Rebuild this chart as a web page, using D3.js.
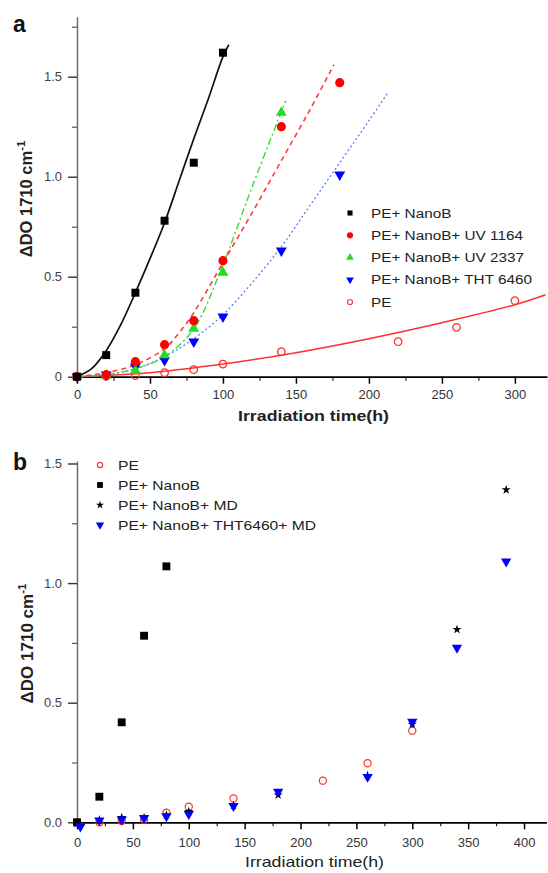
<!DOCTYPE html>
<html><head><meta charset="utf-8">
<script src="https://cdn.jsdelivr.net/npm/d3@7"></script>
<style>body{margin:0;background:#fff}svg{display:block}</style>
</head><body><svg id="c" width="548" height="873"></svg>
<script>
// ---------- DATA: panel a ----------
const aNanoB_x   = [0, 20, 40, 60, 80, 100];
const aNanoB_y   = [0, 0.108, 0.42, 0.78, 1.07, 1.62];
const aUV1164_x  = [0, 20, 40, 60, 80, 100, 140, 180];
const aUV1164_y  = [0, 0.01, 0.075, 0.16, 0.28, 0.58, 1.25, 1.47];
const aUV2337_x  = [0, 20, 40, 60, 80, 100, 140];
const aUV2337_y  = [0, 0.005, 0.03, 0.108, 0.24, 0.52, 1.32];
const aTHT_x     = [0, 20, 40, 60, 80, 100, 140, 180];
const aTHT_y     = [0, 0.01, 0.05, 0.083, 0.175, 0.30, 0.63, 1.01];
const aPE_x      = [0, 20, 40, 60, 80, 100, 140, 220, 260, 300];
const aPE_y      = [0, 0.002, 0.005, 0.02, 0.035, 0.063, 0.125, 0.175, 0.247, 0.38];
// fitted curves
const fNanoB_x   = [0, 10, 20, 30, 40, 50, 60, 70, 80, 90, 100, 104];
const fNanoB_y   = [0, 0.04, 0.13, 0.26, 0.42, 0.59, 0.77, 0.98, 1.19, 1.39, 1.6, 1.66];
const fUV1164_x  = [0, 20, 40, 60, 70, 80, 100, 120, 140, 160, 176];
const fUV1164_y  = [0, 0.02, 0.06, 0.14, 0.22, 0.32, 0.57, 0.82, 1.08, 1.34, 1.56];
const fUV2337_x  = [0, 20, 40, 60, 80, 100, 120, 143];
const fUV2337_y  = [0, 0.01, 0.04, 0.10, 0.24, 0.56, 0.95, 1.38];
const fTHT_x     = [0, 20, 40, 60, 80, 100, 120, 140, 160, 180, 200, 213];
const fTHT_y     = [0, 0.01, 0.04, 0.10, 0.19, 0.31, 0.47, 0.65, 0.86, 1.07, 1.28, 1.42];
const fPE_x      = [0, 50, 100, 150, 200, 250, 300, 321];
const fPE_y      = [0, 0.02, 0.063, 0.12, 0.19, 0.27, 0.36, 0.41];
const aLegend    = ["PE+ NanoB", "PE+ NanoB+ UV 1164", "PE+ NanoB+ UV 2337", "PE+ NanoB+ THT 6460", "PE"];
const aXTicks    = [0, 50, 100, 150, 200, 250, 300];
const aXMinor    = [25, 75, 125, 175, 225, 275];
const aYTicks    = [0, 0.5, 1.0, 1.5];
const aYMinor    = [0.25, 0.75, 1.25, 1.75];

// ---------- DATA: panel b ----------
const bPE_x      = [0, 20, 40, 60, 80, 100, 140, 220, 260, 300];
const bPE_y      = [0, 0, 0.005, 0.01, 0.04, 0.065, 0.10, 0.174, 0.247, 0.383];
const bNanoB_x   = [0, 20, 40, 60, 80];
const bNanoB_y   = [0, 0.107, 0.418, 0.78, 1.07];
const bMD_x      = [0, 20, 40, 60, 80, 100, 140, 180, 260, 300, 340, 384];
const bMD_y      = [-0.005, 0.01, 0.02, 0.02, 0.03, 0.045, 0.07, 0.114, 0.195, 0.41, 0.806, 1.39];
const bTHT_x     = [3, 20, 40, 60, 80, 100, 140, 180, 260, 300, 340, 384];
const bTHT_y     = [-0.018, 0.008, 0.012, 0.018, 0.025, 0.035, 0.068, 0.128, 0.19, 0.42, 0.73, 1.09];
const bLegend    = ["PE", "PE+ NanoB", "PE+ NanoB+ MD", "PE+ NanoB+ THT6460+ MD"];
const bXTicks    = [0, 50, 100, 150, 200, 250, 300, 350, 400];
const bXMinor    = [25, 75, 125, 175, 225, 275, 325, 375];
const bYTicks    = [0, 0.5, 1.0, 1.5];
const bYMinor    = [0.25, 0.75, 1.25];

// ---------- DRAW ----------
const FONT = '"Liberation Sans", Arial, sans-serif';
const svg = d3.select('#c');
svg.append('rect').attr('width', 548).attr('height', 873).attr('fill', '#fff');

const xa = d3.scaleLinear([0, 322], [77, 547]);
const ya = d3.scaleLinear([0, 1.8], [376.7, 16.7]);
const xb = d3.scaleLinear([0, 420], [77, 546.4]);
const yb = d3.scaleLinear([0, 1.51], [822.3, 461.1]);

function axes(xs, ys, cfg) {
  const x0 = xs(0), y0 = ys(0);
  const gm = svg.append('g').attr('transform', `translate(${x0},0)`)
    .call(d3.axisLeft(ys).tickValues(cfg.yMinor).tickSize(5).tickFormat(''));
  gm.select('.domain').remove();
  gm.selectAll('line').attr('stroke', '#555').attr('stroke-width', 1.2);
  const gy = svg.append('g').attr('transform', `translate(${x0},0)`)
    .call(d3.axisLeft(ys).tickValues(cfg.yTicks).tickSize(9).tickSizeOuter(0).tickPadding(6).tickFormat(cfg.yFmt));
  gy.attr('font-family', FONT).attr('font-size', 13);
  gy.select('.domain').attr('stroke', '#666').attr('stroke-width', 1.4);
  gy.selectAll('line').attr('stroke', '#333').attr('stroke-width', 1.4);
  gy.selectAll('text').attr('fill', '#444');

  const gxm = svg.append('g').attr('transform', `translate(0,${y0})`)
    .call(d3.axisBottom(xs).tickValues(cfg.xMinor).tickSize(4).tickFormat(''));
  gxm.select('.domain').remove();
  gxm.selectAll('line').attr('stroke', '#222').attr('stroke-width', 1.2);
  const gx = svg.append('g').attr('transform', `translate(0,${y0})`)
    .call(d3.axisBottom(xs).tickValues(cfg.xTicks).tickSize(7).tickSizeOuter(0).tickPadding(cfg.xPad));
  gx.attr('font-family', FONT).attr('font-size', 13);
  gx.select('.domain').attr('stroke', '#000').attr('stroke-width', 1.8);
  gx.selectAll('line').attr('stroke', '#000').attr('stroke-width', 1.5);
  gx.selectAll('text').attr('fill', '#333');
}

function curve(xs, ys, X, Y, color, dash, w) {
  svg.append('path').datum(d3.zip(X, Y))
    .attr('d', d3.line().x(d => xs(d[0])).y(d => ys(d[1])).curve(d3.curveCatmullRom))
    .attr('fill', 'none').attr('stroke', color).attr('stroke-width', w || 1.5)
    .attr('stroke-dasharray', dash || null);
}

function points(xs, ys, X, Y, st) {
  svg.append('g').selectAll('path').data(d3.zip(X, Y)).join('path')
    .attr('transform', d => `translate(${xs(d[0])},${ys(d[1])}) rotate(${st.rot || 0})`)
    .attr('d', d3.symbol(st.type, st.size)())
    .attr('fill', st.fill).attr('stroke', st.stroke || 'none').attr('stroke-width', st.sw || 1);
}

function stretchText(sel, k) {
  sel.each(function () {
    const w = this.getComputedTextLength();
    d3.select(this).attr('textLength', w * k).attr('lengthAdjust', 'spacingAndGlyphs');
  });
}

function legend(items, styles, x0, y0, dy, tx, fs, targetW, longestIdx) {
  const g = svg.append('g');
  items.forEach((t, i) => {
    const st = styles[i];
    g.append('path')
      .attr('transform', `translate(${x0},${y0 + i * dy}) rotate(${st.rot || 0})`)
      .attr('d', d3.symbol(st.type, st.size)())
      .attr('fill', st.fill).attr('stroke', st.stroke || 'none').attr('stroke-width', st.sw || 1);
    g.append('text').attr('class', 'lg').attr('x', tx).attr('y', y0 + i * dy).attr('dy', '0.36em')
      .attr('font-family', FONT).attr('font-size', fs).attr('fill', '#222').text(t);
  });
  const texts = g.selectAll('text.lg');
  const k = targetW / texts.nodes()[longestIdx].getComputedTextLength();
  stretchText(texts, k);
}

function yTitle(cx, cy, fs) {
  const t = svg.append('text').attr('transform', `translate(${cx},${cy}) rotate(-90)`)
    .attr('text-anchor', 'middle').attr('font-family', FONT).attr('font-size', fs)
    .attr('font-weight', 'bold').attr('fill', '#222');
  t.append('tspan').text('ΔDO 1710 cm');
  t.append('tspan').attr('font-size', fs * 0.68).attr('dy', -fs * 0.4).text('-1');
}

function xTitle(cx, y, fs, weight, w) {
  const t = svg.append('text').attr('x', cx).attr('y', y).attr('text-anchor', 'middle')
    .attr('font-family', FONT).attr('font-size', fs).attr('font-weight', weight)
    .attr('fill', '#222').text('Irradiation time(h)');
  t.attr('textLength', w).attr('lengthAdjust', 'spacingAndGlyphs');
}

const RED = '#ff0000', GREEN = '#22dd22', BLUE = '#0000ff';
const sSq = { type: d3.symbolSquare, size: 64, fill: '#000' };
const sCi = { type: d3.symbolCircle, size: 66, fill: RED };
const sTr = { type: d3.symbolTriangle, size: 52, fill: GREEN };
const sTd = { type: d3.symbolTriangle, size: 52, fill: BLUE, rot: 180 };
const sOc = { type: d3.symbolCircle, size: 44, fill: 'none', stroke: '#ff3030', sw: 1.3 };

// ----- Panel a -----
axes(xa, ya, { xTicks: aXTicks, xMinor: aXMinor, yTicks: aYTicks, yMinor: aYMinor, xPad: 6,
  yFmt: d => d === 0 ? '0' : d3.format('.1f')(d) });
curve(xa, ya, fPE_x, fPE_y, '#ff3030', null, 1.5);
curve(xa, ya, fTHT_x, fTHT_y, '#5a7cff', '2,2.5', 1.3);
curve(xa, ya, fUV2337_x, fUV2337_y, '#33dd33', '7,3,2,3', 1.4);
curve(xa, ya, fUV1164_x, fUV1164_y, '#ff3a3a', '5,4', 1.6);
curve(xa, ya, fNanoB_x, fNanoB_y, '#111', null, 1.7);
points(xa, ya, aPE_x, aPE_y, sOc);
points(xa, ya, aTHT_x, aTHT_y, sTd);
points(xa, ya, aUV2337_x, aUV2337_y, sTr);
points(xa, ya, aUV1164_x, aUV1164_y, sCi);
points(xa, ya, aNanoB_x, aNanoB_y, sSq);
legend(aLegend, [
  { type: d3.symbolSquare, size: 26, fill: '#000' },
  { type: d3.symbolCircle, size: 30, fill: RED },
  { type: d3.symbolTriangle, size: 26, fill: GREEN },
  { type: d3.symbolTriangle, size: 26, fill: BLUE, rot: 180 },
  { type: d3.symbolCircle, size: 20, fill: 'none', stroke: '#ff3030', sw: 1.1 }
], 350, 213, 22.25, 371, 12.5, 161, 3);
xTitle(313.5, 421, 15, 'bold', 151);
yTitle(32, 199, 16.5);
svg.append('text').attr('x', 13).attr('y', 32).attr('font-family', FONT).attr('font-size', 23)
  .attr('font-weight', 'bold').attr('fill', '#111').text('a');

// ----- Panel b -----
axes(xb, yb, { xTicks: bXTicks, xMinor: bXMinor, yTicks: bYTicks, yMinor: bYMinor, xPad: 8,
  yFmt: d3.format('.1f') });
points(xb, yb, bPE_x, bPE_y, { type: d3.symbolCircle, size: 40, fill: 'none', stroke: '#ff3030', sw: 1.2 });
points(xb, yb, bNanoB_x, bNanoB_y, { type: d3.symbolSquare, size: 62, fill: '#000' });
points(xb, yb, bMD_x, bMD_y, { type: d3.symbolStar, size: 26, fill: '#000' });
points(xb, yb, bTHT_x, bTHT_y, { type: d3.symbolTriangle, size: 46, fill: BLUE, rot: 180 });
legend(bLegend, [
  { type: d3.symbolCircle, size: 22, fill: 'none', stroke: '#ff3030', sw: 1.1 },
  { type: d3.symbolSquare, size: 34, fill: '#000' },
  { type: d3.symbolStar, size: 20, fill: '#000' },
  { type: d3.symbolTriangle, size: 30, fill: BLUE, rot: 180 }
], 100, 465, 20, 118, 13.5, 198, 3);
xTitle(314.5, 867, 15, 'normal', 139);
yTitle(33, 643.5, 17);
svg.append('text').attr('x', 13).attr('y', 470).attr('font-family', FONT).attr('font-size', 23)
  .attr('font-weight', 'bold').attr('fill', '#111').text('b');
</script></body></html>
